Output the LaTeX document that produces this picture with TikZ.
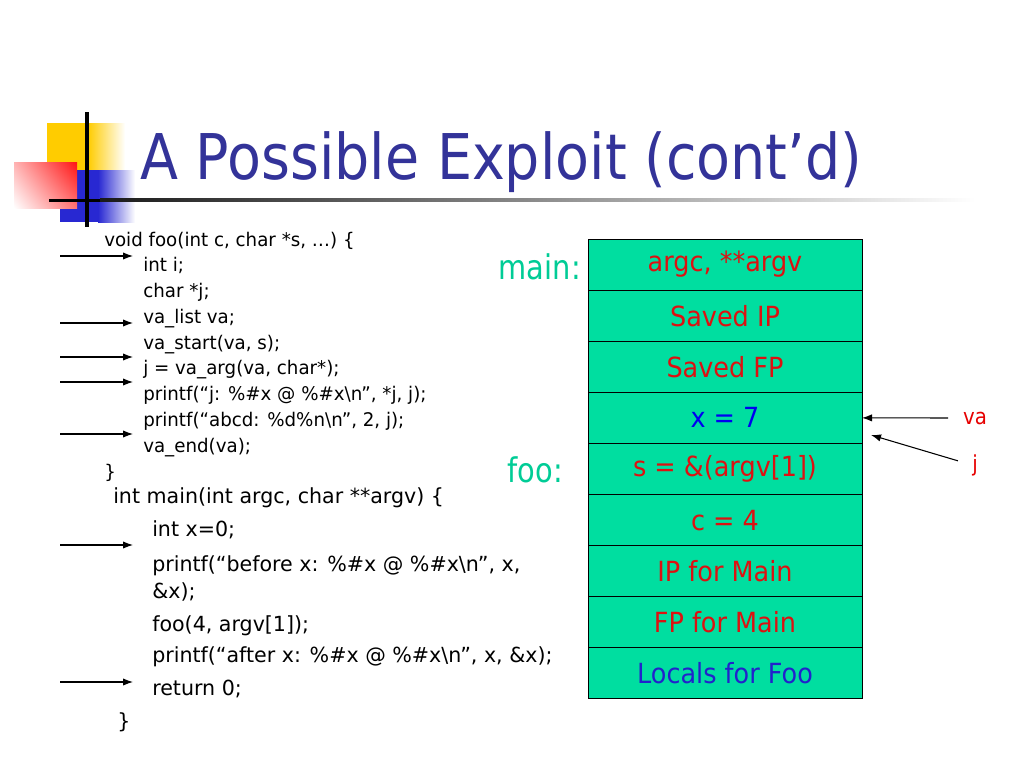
\documentclass[tikz,border=0pt]{standalone}
\usepackage{fontspec}
\setmainfont{DejaVu Sans}
\usetikzlibrary{positioning,arrows.meta,shadings}

\definecolor{titleblue}{RGB}{51,51,153}
\definecolor{labelgreen}{RGB}{0,204,150}
\definecolor{cellgreen}{RGB}{0,222,160}
\definecolor{cellred}{RGB}{221,17,17}
\definecolor{xblue}{RGB}{0,0,240}
\definecolor{localblue}{RGB}{34,34,204}
\definecolor{ptrred}{RGB}{230,0,0}
\definecolor{logoyellow}{RGB}{255,204,0}
\definecolor{logoblue}{RGB}{40,40,210}
\definecolor{logored}{RGB}{255,20,20}

\newcommand{\sz}[3]{\fontsize{#1}{#2}\selectfont\addfontfeature{FakeStretch=#3}}

\tikzset{
  cell/.style={draw=black, line width=0.75pt, fill=cellgreen, minimum width=205.5pt,
    minimum height=38.33pt, inner sep=0pt, outer sep=0pt, text=cellred, font=\sz{20.8}{24}{0.92}},
  codeA/.style={anchor=base west, inner sep=0pt, font=\sz{14.1}{17}{0.97}},
  codeB/.style={anchor=base west, inner sep=0pt, font=\sz{15.6}{19}{0.99}},
  frame/.style={anchor=base east, inner sep=0pt, text=labelgreen, font=\sz{25.5}{30}{0.85}},
  ptr/.style={inner sep=0pt, text=ptrred, font=\sz{16.5}{20}{0.9}},
  arr/.style={-{Latex[length=7.5pt,width=5.5pt]}, line width=0.8pt},
}

\begin{document}
\begin{tikzpicture}[x=0.75pt,y=-0.75pt]
\useasboundingbox (0,0) rectangle (1024,768);

% logo
\fill[logoyellow] (47,123) rectangle (88,170);
\shade[left color=logoyellow, right color=white] (88,123) rectangle (125,170);
\fill[logoblue] (60,170) rectangle (98,222);
\shade[left color=logoblue, right color=white] (98,170) rectangle (135,222);
\shade[upper right=logored, upper left=red!30, lower right=red!55, lower left=white]
  (14,162) rectangle (77,208);
\draw[line width=3pt] (87,112) -- (87,227);
\fill[black] (49,198.5) rectangle (100,201.5);
\shade[left color=black!90, right color=white] (100,198.5) rectangle (975,201.5);

% title
\node[anchor=base west, inner sep=0pt, text=titleblue, font=\sz{47.3}{56}{0.88}] (title)
  at (140,179) {A Possible Exploit (cont’d)};

% foo source
\node[codeA] (foohead) at (104,246) {void foo(int c, char *s, …) \{};
\node[codeA] (li) at (143,271.75) {int i;};
\node[codeA] (lj) at (143,297.5) {char *j;};
\node[codeA] (lva) at (143,323.25) {va\_list va;};
\node[codeA] (lstart) at (143,349) {va\_start(va, s);};
\node[codeA] (larg) at (143,374.75) {j = va\_arg(va, char*);};
\node[codeA] (lpj) at (143,400.5) {printf(“j: \%\#x @ \%\#x\textbackslash n”, *j, j);};
\node[codeA] (lpabcd) at (143,426.25) {printf(“abcd: \%d\%n\textbackslash n”, 2, j);};
\node[codeA] (lend) at (143,452) {va\_end(va);};
\node[codeA] (fooend) at (104,478) {\}};

% main source
\node[codeB] (mainhead) at (113,503) {int main(int argc, char **argv) \{};
\node[codeB] (lx) at (152,536) {int x=0;};
\node[codeB] (lbefore) at (152,571) {printf(“before x: \%\#x @ \%\#x\textbackslash n”, x,};
\node[codeB] (lbefore2) at (152,598) {\&x);};
\node[codeB] (lcall) at (152,631) {foo(4, argv[1]);};
\node[codeB] (lafter) at (152,662) {printf(“after x: \%\#x @ \%\#x\textbackslash n”, x, \&x);};
\node[codeB] (lret) at (152,695) {return 0;};
\node[codeB] (mainend) at (117,728.5) {\}};

% step arrows
\foreach \n/\y in {1/256,2/323,3/357,4/382,5/434,6/545,7/682} {
  \coordinate (s\n) at (60,\y);
  \coordinate (t\n) at (133,\y);
  \draw[arr] (s\n) -- (t\n);
}

% stack
\node[cell] (arg) at (725,264.55) {argc, **argv};
\node[cell, below=0pt of arg] (sip) {Saved IP};
\node[cell, below=0pt of sip] (sfp) {Saved FP};
\node[cell, below=0pt of sfp, text=xblue] (xval) {x = 7};
\node[cell, below=0pt of xval] (sval) {s = \&(argv[1])};
\node[cell, below=0pt of sval] (cval) {c = 4};
\node[cell, below=0pt of cval] (ipmain) {IP for Main};
\node[cell, below=0pt of ipmain] (fpmain) {FP for Main};
\node[cell, below=0pt of fpmain, text=localblue] (locals) {Locals for Foo};

\node[frame] (lmain) at (581,279) {main:};
\node[frame] (lfoo) at (563,482) {foo:};

% pointers
\node[ptr] (va) at (975,418) {va};
\node[ptr] (j) at (975,465) {j};
\coordinate (jtip) at (871,435);
\draw[arr, shorten <=11pt] (va.west) -- (xval.east);
\draw[arr, shorten <=11pt] (j.west) -- (jtip);
\end{tikzpicture}
\end{document}
